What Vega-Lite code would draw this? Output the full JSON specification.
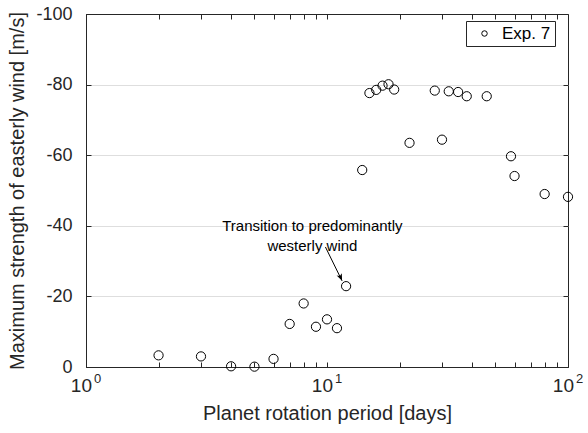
{
  "$schema": "https://vega.github.io/schema/vega-lite/v6.json",
  "width": 482,
  "height": 353,
  "autosize": {"type": "none"},
  "padding": {"left": 86, "top": 14, "right": 20, "bottom": 66},
  "config": {
    "font": "Liberation Sans",
    "view": {"stroke": "#262626", "strokeWidth": 1},
    "axis": {
      "domainColor": "#262626",
      "tickColor": "#262626",
      "labelColor": "#262626",
      "titleColor": "#262626",
      "labelFont": "Liberation Sans",
      "titleFont": "Liberation Sans",
      "titleFontWeight": "normal"
    }
  },
  "datasets": {
    "main": [
      {"period": 2, "wind": -3.3, "series": "Exp. 7"},
      {"period": 3, "wind": -3.0, "series": "Exp. 7"},
      {"period": 4, "wind": -0.2, "series": "Exp. 7"},
      {"period": 5, "wind": -0.1, "series": "Exp. 7"},
      {"period": 6, "wind": -2.3, "series": "Exp. 7"},
      {"period": 7, "wind": -12.2, "series": "Exp. 7"},
      {"period": 8, "wind": -18.0, "series": "Exp. 7"},
      {"period": 9, "wind": -11.4, "series": "Exp. 7"},
      {"period": 10, "wind": -13.5, "series": "Exp. 7"},
      {"period": 11, "wind": -11.0, "series": "Exp. 7"},
      {"period": 12, "wind": -22.9, "series": "Exp. 7"},
      {"period": 14, "wind": -55.8, "series": "Exp. 7"},
      {"period": 15, "wind": -77.6, "series": "Exp. 7"},
      {"period": 16, "wind": -78.5, "series": "Exp. 7"},
      {"period": 17, "wind": -79.7, "series": "Exp. 7"},
      {"period": 18, "wind": -80.1, "series": "Exp. 7"},
      {"period": 19, "wind": -78.6, "series": "Exp. 7"},
      {"period": 22, "wind": -63.5, "series": "Exp. 7"},
      {"period": 28, "wind": -78.3, "series": "Exp. 7"},
      {"period": 30, "wind": -64.4, "series": "Exp. 7"},
      {"period": 32, "wind": -78.1, "series": "Exp. 7"},
      {"period": 35, "wind": -77.9, "series": "Exp. 7"},
      {"period": 38, "wind": -76.7, "series": "Exp. 7"},
      {"period": 46, "wind": -76.7, "series": "Exp. 7"},
      {"period": 58, "wind": -59.7, "series": "Exp. 7"},
      {"period": 60, "wind": -54.1, "series": "Exp. 7"},
      {"period": 80, "wind": -49.0, "series": "Exp. 7"},
      {"period": 100, "wind": -48.2, "series": "Exp. 7"}
    ],
    "ticklabels": [
      {"period": 1, "base": "10", "exp": "0"},
      {"period": 10, "base": "10", "exp": "1"},
      {"period": 100, "base": "10", "exp": "2"}
    ],
    "note": [
      {"period": 8.7, "wind": -40, "label": "Transition to predominantly\nwesterly wind"}
    ],
    "arrow": [
      {"x0": 9.85, "y0": -34.0, "x1": 11.55, "y1": -24.4}
    ]
  },
  "layer": [
    {
      "data": {"name": "main"},
      "mark": {"type": "point", "opacity": 0},
      "encoding": {
        "x": {
          "field": "period", "type": "quantitative",
          "scale": {"type": "log", "domain": [1, 100], "nice": false},
          "axis": {"orient": "top", "values": [1,2,3,4,5,6,7,8,9,10,20,30,40,50,60,70,80,90,100], "labels": false, "tickSize": -5, "grid": false, "title": null, "domain": false}
        },
        "y": {
          "field": "wind", "type": "quantitative",
          "scale": {"domain": [-100, 0], "reverse": true, "nice": false},
          "axis": {"orient": "right", "values": [-80, -60, -40, -20], "labels": false, "tickSize": -5, "grid": true, "gridColor": "#dedede", "title": null, "domain": false}
        }
      }
    },
    {
      "data": {"name": "main"},
      "mark": {"type": "point", "shape": "circle", "filled": false, "size": 85, "strokeWidth": 1, "opacity": 1},
      "encoding": {
        "x": {
          "field": "period", "type": "quantitative",
          "axis": {"orient": "bottom", "values": [1,2,3,4,5,6,7,8,9,10,20,30,40,50,60,70,80,90,100], "labels": false, "tickSize": -5, "grid": false, "title": "Planet rotation period [days]", "titleFontSize": 20, "titleY": 46, "titleBaseline": "middle"}
        },
        "y": {
          "field": "wind", "type": "quantitative",
          "axis": {"orient": "left", "values": [0, -20, -40, -60, -80, -100], "labelExpr": "replace(datum.label, '\u2212', '-')", "tickSize": -5, "labelPadding": 19, "labelFontSize": 18, "grid": false, "title": "Maximum strength of easterly wind [m/s]", "titleFontSize": 20, "titleX": -69, "titleBaseline": "middle"}
        },
        "color": {
          "field": "series", "type": "nominal",
          "scale": {"range": ["#000000"]},
          "legend": {
            "title": null, "orient": "none", "legendX": 380, "legendY": 7,
            "strokeColor": "#262626", "fillColor": "#ffffff", "padding": 4,
            "symbolType": "circle", "symbolSize": 30, "symbolStrokeWidth": 1,
            "symbolOffset": 6, "labelOffset": 9, "labelFontSize": 17, "labelColor": "#000000", "cornerRadius": 0
          }
        }
      }
    },
    {
      "data": {"name": "ticklabels"},
      "mark": {"type": "text", "align": "right", "baseline": "top", "dx": 6, "dy": 10, "fontSize": 19, "color": "#262626"},
      "encoding": {
        "x": {"field": "period", "type": "quantitative", "axis": null},
        "y": {"datum": 0, "type": "quantitative", "axis": null},
        "text": {"field": "base"}
      }
    },
    {
      "data": {"name": "ticklabels"},
      "mark": {"type": "text", "align": "left", "baseline": "top", "dx": 8, "dy": 6, "fontSize": 13, "color": "#262626"},
      "encoding": {
        "x": {"field": "period", "type": "quantitative", "axis": null},
        "y": {"datum": 0, "type": "quantitative", "axis": null},
        "text": {"field": "exp"}
      }
    },
    {
      "data": {"name": "note"},
      "mark": {"type": "text", "align": "center", "baseline": "middle", "lineBreak": "\n", "lineHeight": 20, "fontSize": 15, "color": "#000000"},
      "encoding": {
        "x": {"field": "period", "type": "quantitative", "axis": null},
        "y": {"field": "wind", "type": "quantitative", "axis": null},
        "text": {"field": "label"}
      }
    },
    {
      "data": {"name": "arrow"},
      "mark": {"type": "rule", "color": "#000000", "strokeWidth": 1},
      "encoding": {
        "x": {"field": "x0", "type": "quantitative", "axis": null},
        "y": {"field": "y0", "type": "quantitative", "axis": null},
        "x2": {"field": "x1"},
        "y2": {"field": "y1"}
      }
    },
    {
      "data": {"name": "arrow"},
      "mark": {"type": "point", "shape": "M-0.4,-1L0,0L0.4,-1L0,-0.75Z", "filled": true, "color": "#000000", "size": 200, "angle": 336, "opacity": 1},
      "encoding": {
        "x": {"field": "x1", "type": "quantitative", "axis": null},
        "y": {"field": "y1", "type": "quantitative", "axis": null}
      }
    }
  ],
  "resolve": {"axis": {"x": "independent", "y": "independent"}}
}
